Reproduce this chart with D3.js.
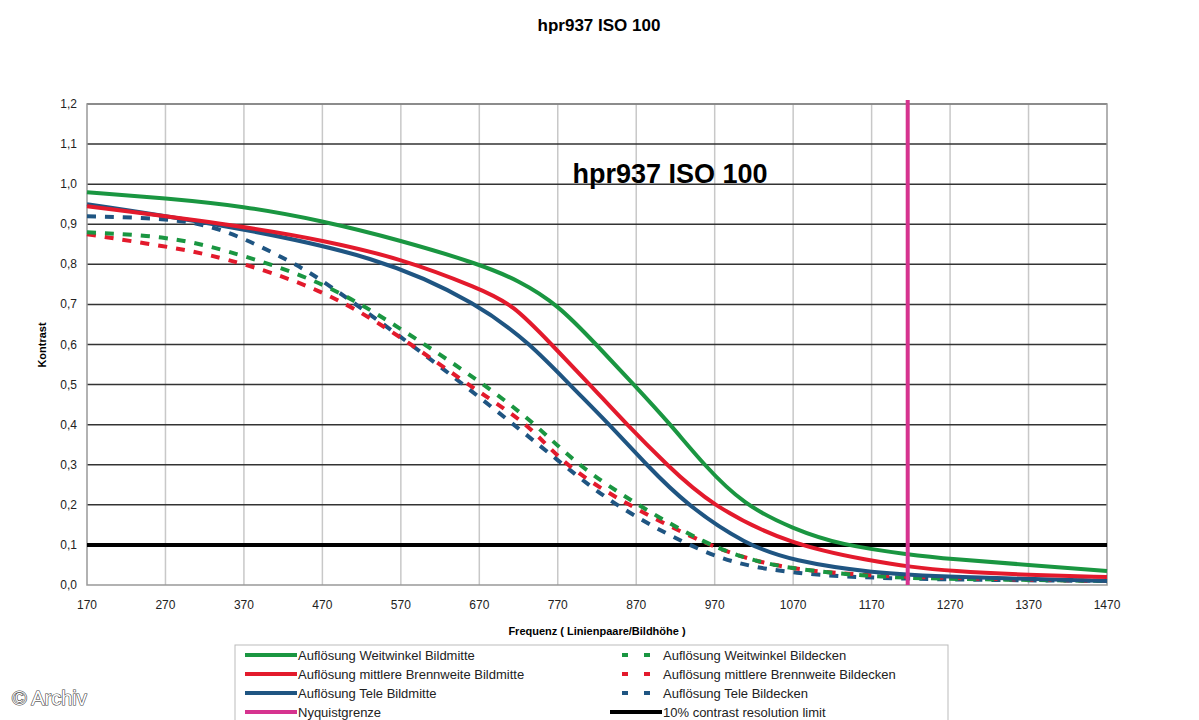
<!DOCTYPE html>
<html><head><meta charset="utf-8">
<script src="https://cdn.jsdelivr.net/npm/d3@7"></script>
<style>body{margin:0;background:#fff;font-family:"Liberation Sans",Arial,sans-serif}</style>
</head><body><svg id="c" width="1199" height="720"></svg>
<script>
const xTicks = [170,270,370,470,570,670,770,870,970,1070,1170,1270,1370,1470];
const yTicks = [0,0.1,0.2,0.3,0.4,0.5,0.6,0.7,0.8,0.9,1.0,1.1,1.2];
const weitMitte = [[170,.98],[270,.965],[370,.945],[467,.91],[570,.86],[671,.80],[720,.76],[770,.70],[819,.6],[867,.5],[914,.4],[956,.3],[1007,.2],[1070,.14],[1130,.1],[1220,.075],[1270,.065],[1370,.05],[1470,.035]];
const mittelMitte = [[170,.945],[370,.895],[470,.86],[570,.815],[670,.74],[713,.7],[762,.6],[811,.5],[858,.4],[909,.3],[964,.2],[1066,.1],[1170,.06],[1220,.045],[1270,.035],[1370,.025],[1470,.02]];
const teleMitte = [[170,.95],[340,.90],[543,.82],[670,.70],[736,.6],[785,.5],[836,.4],[883,.3],[934,.2],[1010,.1],[1070,.06],[1170,.03],[1270,.02],[1470,.01]];
const weitEcken = [[170,.88],[270,.87],[340,.84],[470,.76],[570,.64],[670,.51],[743,.4],[794,.3],[871,.2],[960,.1],[1020,.06],[1070,.04],[1170,.02],[1270,.015],[1470,.01]];
const mittelEcken = [[170,.875],[270,.845],[340,.82],[470,.74],[570,.62],[670,.48],[734,.4],[777,.3],[858,.2],[960,.1],[1020,.06],[1070,.04],[1170,.02],[1470,.01]];
const teleEcken = [[170,.92],[270,.915],[340,.895],[437,.80],[470,.76],[570,.62],[670,.47],[777,.3],[841,.2],[934,.1],[1000,.05],[1070,.03],[1170,.015],[1470,.01]];
const nyquist = 1216;
const limit = 0.1;

const green = '#1a9641', red = '#e31a2c', blue = '#1f5582', pink = '#d6338f';
const series = [
  {name:'Auflösung Weitwinkel Bildmitte', data:weitMitte, color:green, dash:null},
  {name:'Auflösung mittlere Brennweite Bildmitte', data:mittelMitte, color:red, dash:null},
  {name:'Auflösung Tele Bildmitte', data:teleMitte, color:blue, dash:null},
  {name:'Auflösung Weitwinkel Bildecken', data:weitEcken, color:green, dash:'9,9'},
  {name:'Auflösung mittlere Brennweite Bildecken', data:mittelEcken, color:red, dash:'9,9'},
  {name:'Auflösung Tele Bildecken', data:teleEcken, color:blue, dash:'9,9'},
];

const svg = d3.select('#c');
const L = 87, R = 1107, T = 104, B = 585;
const x = d3.scaleLinear().domain([170,1470]).range([L,R]);
const y = d3.scaleLinear().domain([0,1.2]).range([B,T]);
const fmt = d => d.toFixed(1).replace('.', ',');

svg.append('text').attr('x',599).attr('y',31).attr('text-anchor','middle')
  .attr('font-size',17).attr('font-weight','bold').text('hpr937 ISO 100');

// grid
svg.append('g').selectAll('line').data(xTicks.slice(1,-1)).join('line')
  .attr('x1',d=>x(d)).attr('x2',d=>x(d)).attr('y1',T).attr('y2',B)
  .attr('stroke','#c8c8c8').attr('stroke-width',1.5);
svg.append('g').selectAll('line').data(yTicks.slice(1)).join('line')
  .attr('x1',L).attr('x2',R).attr('y1',d=>y(d)).attr('y2',d=>y(d))
  .attr('stroke','#333').attr('stroke-width',1.5);
svg.append('rect').attr('x',L).attr('y',T).attr('width',R-L).attr('height',B-T)
  .attr('fill','none').attr('stroke','#999').attr('stroke-width',1.5);

// axes labels
svg.append('g').selectAll('text').data(yTicks).join('text')
  .attr('x',L-10).attr('y',d=>y(d)+4).attr('text-anchor','end')
  .attr('font-size',12).attr('fill','#222').text(fmt);
svg.append('g').selectAll('text').data(xTicks).join('text')
  .attr('x',d=>x(d)).attr('y',B+24).attr('text-anchor','middle')
  .attr('font-size',12).attr('fill','#222').text(d=>d);
svg.append('text').attr('x',597).attr('y',635).attr('text-anchor','middle')
  .attr('font-size',11).attr('font-weight','bold').text('Frequenz ( Linienpaare/Bildhöhe )');
svg.append('text').attr('transform','translate(46,345) rotate(-90)').attr('text-anchor','middle')
  .attr('font-size',11).attr('font-weight','bold').text('Kontrast');

svg.append('text').attr('x',670).attr('y',183).attr('text-anchor','middle')
  .attr('font-size',27).attr('font-weight','bold').text('hpr937 ISO 100');

// reference lines
svg.append('line').attr('x1',L).attr('x2',R).attr('y1',y(limit)).attr('y2',y(limit))
  .attr('stroke','#000').attr('stroke-width',4);

const line = d3.line().x(d=>x(d[0])).y(d=>y(d[1])).curve(d3.curveBasis);
svg.append('g').selectAll('path').data(series.slice().reverse()).join('path')
  .attr('d',d=>line(d.data)).attr('fill','none')
  .attr('stroke',d=>d.color).attr('stroke-width',4)
  .attr('stroke-dasharray',d=>d.dash);

svg.append('line').attr('x1',x(nyquist)).attr('x2',x(nyquist)).attr('y1',T-4).attr('y2',B)
  .attr('stroke',pink).attr('stroke-width',4);

// legend
const lg = svg.append('g');
lg.append('rect').attr('x',235).attr('y',645).attr('width',713).attr('height',80)
  .attr('fill','#fff').attr('stroke','#bbb');
const legendItems = [
  ...series.slice(0,3).map((s,i)=>({...s,col:0,row:i})),
  {name:'Nyquistgrenze', color:pink, dash:null, col:0, row:3},
  ...series.slice(3).map((s,i)=>({...s,col:1,row:i})),
  {name:'10% contrast resolution limit', color:'#000', dash:null, col:1, row:3},
];
const it = lg.selectAll('g').data(legendItems).join('g')
  .attr('transform',d=>`translate(${d.col?610:245},${655+d.row*19})`);
it.append('line').attr('x1',0).attr('x2',52).attr('y1',0).attr('y2',0)
  .attr('stroke',d=>d.color).attr('stroke-width',4)
  .attr('stroke-dasharray',d=>d.dash?'0,12,6,16,6,20':null);
it.append('text').attr('x',53).attr('y',5).attr('font-size',13).attr('fill','#222').text(d=>d.name);

svg.append('text').attr('x',12).attr('y',705).attr('font-size',20)
  .attr('fill','#fff').attr('stroke','#444').attr('stroke-width',1.2)
  .attr('paint-order','stroke').text('© Archiv');
</script></body></html>
